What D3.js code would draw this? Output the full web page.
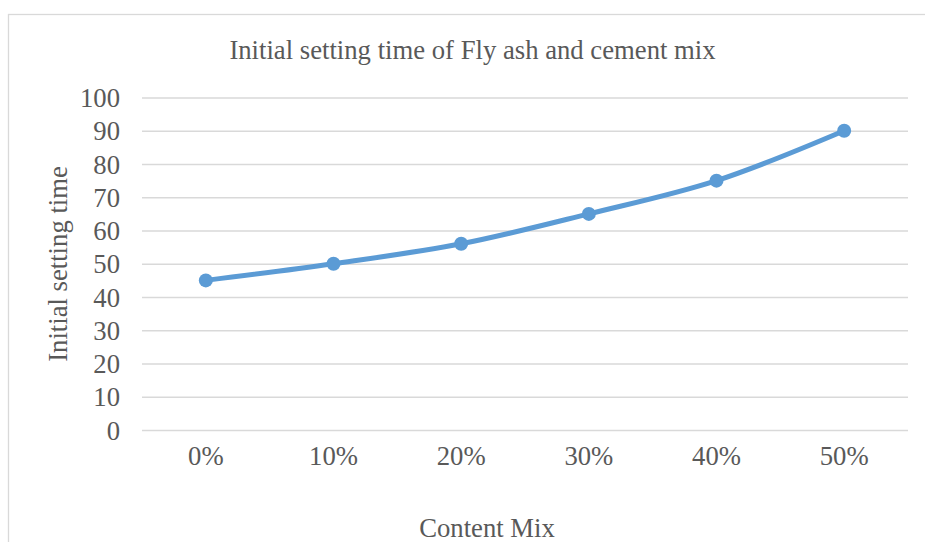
<!DOCTYPE html>
<html>
<head>
<meta charset="utf-8" />
<title>Initial setting time</title>
<style>
html, body {
    margin: 0;
    padding: 0;
    background: #fff;
}
#chart text {
    font-family: "Liberation Serif", "Times New Roman", serif;
    fill: #595959;
}
</style>
</head>
<body>
<div id="chart"></div>
<script src="https://cdnjs.cloudflare.com/ajax/libs/d3/7.8.5/d3.min.js"></script>
<script>
var categories = ["0%", "10%", "20%", "30%", "40%", "50%"]
var values = [45, 50, 56, 65, 75, 90]
var yTicks = [0, 10, 20, 30, 40, 50, 60, 70, 80, 90, 100]

!(function(){
    "use strict"

    var width = 925, height = 542
    var fontSize = 26.7

    var svg = d3.select("#chart").append("svg")
        .attr("width", width)
        .attr("height", height)

    // chart frame, cut off on the right and bottom like the source
    svg.append("rect")
        .attr("x", 8.5).attr("y", 14.5)
        .attr("width", 940).attr("height", 560)
        .attr("fill", "none")
        .attr("stroke", "#d9d9d9")
        .attr("stroke-width", 1.3)

    var x = d3.scaleBand().domain(categories).range([142, 908])
    var y = d3.scaleLinear().domain([0, 100]).range([430, 97.5])

    // gridlines
    svg.append("g")
        .attr("transform", "translate(142,0)")
        .call(d3.axisLeft(y).tickValues(yTicks).tickSize(-(908 - 142)).tickFormat(""))
        .call(function(g){
            g.select(".domain").remove()
            g.selectAll("line").attr("stroke", "#d9d9d9").attr("stroke-width", 1.3)
        })

    // y tick labels
    svg.append("g")
        .attr("transform", "translate(120,0)")
        .call(d3.axisLeft(y).tickValues(yTicks).tickSize(0).tickPadding(0))
        .call(function(g){
            g.select(".domain").remove()
            g.selectAll("line").remove()
            g.selectAll("text").attr("font-size", fontSize).attr("dy", "0.34em")
        })

    // x tick labels
    svg.append("g")
        .attr("transform", "translate(0,430)")
        .call(d3.axisBottom(x).tickSize(0).tickPadding(0))
        .call(function(g){
            g.select(".domain").remove()
            g.selectAll("text").attr("font-size", fontSize).attr("dy", "1.3em")
        })

    var line = d3.line()
        .x(function(d, i){ return x(categories[i]) + x.bandwidth() / 2 })
        .y(function(d){ return y(d) })
        .curve(d3.curveCatmullRom.alpha(0.5))

    svg.append("path")
        .datum(values)
        .attr("d", line)
        .attr("fill", "none")
        .attr("stroke", "#5b9bd5")
        .attr("stroke-width", 5)
        .attr("stroke-linecap", "round")

    svg.selectAll(".dot")
        .data(values)
        .enter().append("circle")
        .attr("class", "dot")
        .attr("cx", function(d, i){ return x(categories[i]) + x.bandwidth() / 2 })
        .attr("cy", function(d){ return y(d) })
        .attr("r", 7)
        .attr("fill", "#5b9bd5")

    svg.append("text")
        .attr("x", 472.5).attr("y", 59)
        .attr("text-anchor", "middle")
        .attr("font-size", fontSize)
        .text("Initial setting time of Fly ash and cement mix")

    svg.append("text")
        .attr("transform", "translate(67,264) rotate(-90)")
        .attr("text-anchor", "middle")
        .attr("font-size", fontSize)
        .text("Initial setting time")

    svg.append("text")
        .attr("x", 487).attr("y", 537)
        .attr("text-anchor", "middle")
        .attr("font-size", fontSize)
        .text("Content Mix")
}());
</script>
</body>
</html>
